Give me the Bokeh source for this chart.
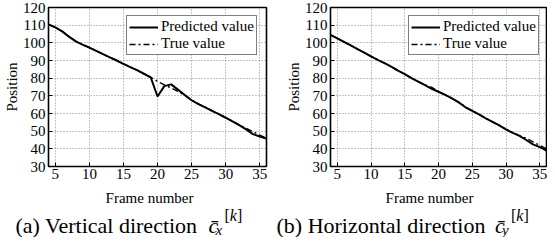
from bokeh.plotting import figure
from bokeh.models import Range1d, Legend, LegendItem, FixedTicker
from bokeh.layouts import column, row
from bokeh.embed import file_html
from bokeh.resources import INLINE
from bokeh.core.properties import value

# ---------------- data ----------------
frames = list(range(4, 37))
vert_pred = [110.5, 108.7, 106.5, 103.5, 100.8, 99.0, 97.3, 95.5, 93.6, 91.8,
             90.0, 88.1, 86.3, 84.5, 82.5, 80.5, 69.6, 75.5, 76.5, 73.5,
             70.5, 67.5, 65.3, 63.5, 61.5, 59.6, 57.6, 55.5, 53.4, 51.0,
             48.3, 47.0, 45.8]
vert_true = [110.5, 108.7, 106.5, 103.7, 101.0, 99.0, 97.3, 95.5, 93.6, 91.8,
             90.0, 88.1, 86.3, 84.5, 82.5, 80.5, 78.2, 76.2, 74.5, 72.5,
             70.3, 67.7, 65.5, 63.6, 61.6, 59.7, 57.7, 55.6, 53.5, 51.6,
             49.8, 47.8, 46.0]
horiz_pred = [104.5, 102.5, 100.5, 98.5, 96.5, 94.5, 92.3, 90.3, 88.5, 86.5,
              84.3, 82.3, 80.0, 78.0, 76.0, 74.0, 72.3, 70.5, 68.5, 66.3,
              63.5, 61.5, 59.5, 57.3, 55.3, 53.3, 51.0, 49.0, 47.3, 45.0,
              42.5, 41.0, 39.0]
horiz_true = [104.5, 102.5, 100.5, 98.5, 96.5, 94.5, 92.3, 90.3, 88.5, 86.5,
              84.3, 82.3, 80.0, 78.0, 76.2, 74.8, 72.5, 70.5, 68.5, 66.3,
              63.8, 61.5, 59.5, 57.3, 55.3, 53.3, 51.0, 49.2, 47.5, 46.0,
              44.0, 42.0, 40.0]
x_ticks = [5, 10, 15, 20, 25, 30, 35]
y_ticks = [30, 40, 50, 60, 70, 80, 90, 100, 110, 120]
legend_labels = ["Predicted value", "True value"]
x_labels = ["Frame number", "Frame number"]
y_label = "Position"
captions = ["(a) Vertical direction", "(b) Horizontal direction"]
cap_symbol = ["c\u0304", "c\u0304"]
cap_sub = ["x", "y"]
sup_open = ["[", "["]
sup_mid = ["k", "k"]
sup_close = ["]", "]"]

FONT = "Liberation Serif"


def make_panel(pred, true, width, border_left, border_right):
    p = figure(width=width, height=187,
               x_range=Range1d(4, 36), y_range=Range1d(30, 120),
               output_backend="svg", toolbar_location=None,
               min_border_left=border_left, min_border_right=border_right,
               min_border_top=7, min_border_bottom=21)
    p.background_fill_color = "white"
    p.border_fill_color = "white"
    p.outline_line_color = "black"
    p.outline_line_width = 1.6
    p.outline_line_alpha = 1.0

    for ax in (p.xaxis[0], p.yaxis[0]):
        ax.axis_line_color = None
        ax.major_tick_in = 4
        ax.major_tick_out = 0
        ax.major_tick_line_color = "black"
        ax.minor_tick_line_color = None
        ax.major_label_text_font = FONT
        ax.major_label_text_font_size = "15px"
        ax.major_label_text_color = "black"
    p.xaxis.ticker = FixedTicker(ticks=x_ticks)
    p.yaxis.ticker = FixedTicker(ticks=y_ticks)
    p.yaxis.axis_label = y_label
    p.yaxis.axis_label_text_font = FONT
    p.yaxis.axis_label_text_font_style = "normal"
    p.yaxis.axis_label_text_color = "black"
    p.yaxis.axis_label_text_font_size = "15px"
    p.xaxis.major_label_standoff = 2
    p.yaxis.major_label_standoff = 3
    p.yaxis.axis_label_standoff = 0

    p.xgrid.ticker = FixedTicker(ticks=x_ticks)
    p.ygrid.ticker = FixedTicker(ticks=y_ticks)
    p.grid.grid_line_color = "#8a8a8a"
    p.grid.grid_line_dash = "1 2"
    p.grid.grid_line_width = 1

    r_pred = p.line(frames, pred, line_color="black", line_width=2)
    r_true = p.line(frames, true, line_color="black", line_width=1.4,
                    line_dash="6 3 2 3")

    legend = Legend(items=[LegendItem(label=legend_labels[0], renderers=[r_pred]),
                           LegendItem(label=legend_labels[1], renderers=[r_true])],
                    location=(78, 111))
    legend.margin = 0
    legend.padding = 2
    legend.spacing = 0
    legend.label_height = 16
    legend.glyph_height = 16
    legend.glyph_width = 29
    legend.label_standoff = 3
    legend.label_text_font = FONT
    legend.label_text_font_size = "15px"
    legend.label_text_color = "black"
    legend.border_line_color = "black"
    legend.border_line_width = 1
    legend.background_fill_color = "white"
    legend.background_fill_alpha = 1.0
    p.add_layout(legend)
    return p


left = make_panel(vert_pred, vert_true, 282, 43, 16)
right = make_panel(horiz_pred, horiz_true, 265, 41, 1)

cap = figure(width=547, height=50, x_range=Range1d(0, 547), y_range=Range1d(50, 0),
             output_backend="svg", toolbar_location=None,
             min_border=0, min_border_left=0, min_border_right=0,
             min_border_top=0, min_border_bottom=0)
cap.axis.visible = False
cap.grid.visible = False
cap.outline_line_color = None
cap.background_fill_color = "white"
cap.border_fill_color = "white"
# x-axis titles
cap.text(x=[149, 429], y=[10, 10], text=x_labels, text_font=value(FONT),
         text_font_size="15px", text_align="center",
         text_baseline="alphabetic", text_color="black")
# sub-figure captions
cap.text(x=[15, 276], y=[38, 38], text=captions, text_font=value(FONT),
         text_font_size="22px", text_baseline="alphabetic", text_color="black")
cap.text(x=[208, 494.5], y=[38, 38], text=cap_symbol, text_font=value(FONT),
         text_font_size="22px", text_font_style="italic",
         text_baseline="alphabetic", text_color="black")
cap.text(x=[215, 501.5], y=[42, 42], text=cap_sub, text_font=value(FONT),
         text_font_size="15px", text_font_style="italic",
         text_baseline="alphabetic", text_color="black")
cap.text(x=[224, 510.5], y=[28, 28], text=sup_open, text_font=value(FONT),
         text_font_size="16px", text_baseline="alphabetic", text_color="black")
cap.text(x=[229.3, 515.8], y=[28, 28], text=sup_mid, text_font=value(FONT),
         text_font_size="16px", text_font_style="italic",
         text_baseline="alphabetic", text_color="black")
cap.text(x=[236.4, 522.9], y=[28, 28], text=sup_close, text_font=value(FONT),
         text_font_size="16px", text_baseline="alphabetic", text_color="black")

layout = column(row(left, right), cap)
open("out.html", "w").write(file_html(layout, INLINE))
